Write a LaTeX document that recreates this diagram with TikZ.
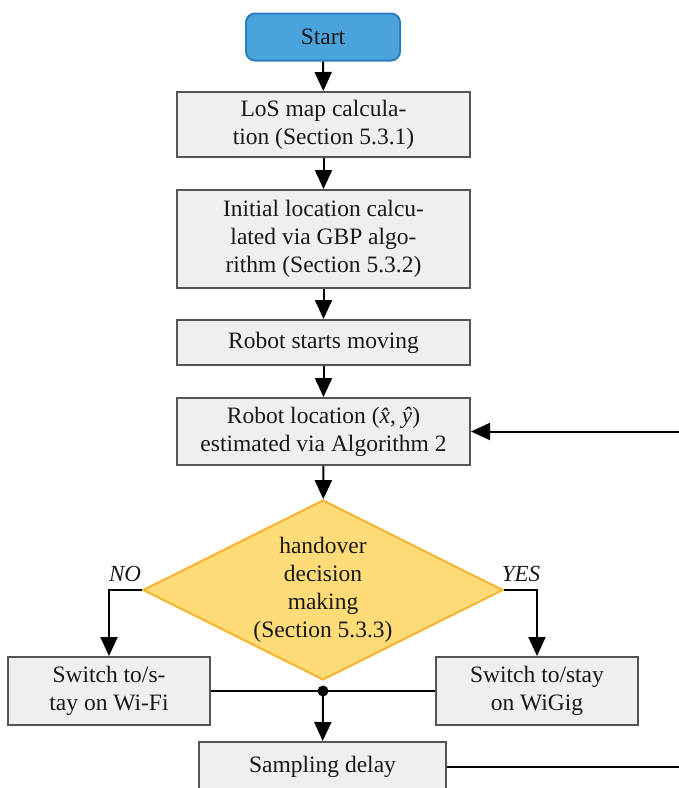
\documentclass[tikz,border=0pt]{standalone}
\usepackage{fontspec}
\setmainfont{Liberation Serif}
\usetikzlibrary{shapes.geometric,arrows.meta}
\definecolor{boxfill}{HTML}{EEEFEF}
\definecolor{boxline}{HTML}{555555}
\definecolor{startfill}{HTML}{4AA3DB}
\definecolor{startline}{HTML}{2C7FBE}
\definecolor{decfill}{HTML}{FFDC78}
\definecolor{decline}{HTML}{F5B330}
\begin{document}
\begin{tikzpicture}[x=1pt,y=-1pt,
  every node/.style={font=\fontsize{23.5}{28}\selectfont, text=black!90},
  procbox/.style={draw=boxline, fill=boxfill, line width=2pt, align=center,
    minimum width=293pt, inner sep=0pt},
  sidebox/.style={procbox, minimum width=202pt, minimum height=68pt},
  startbox/.style={draw=startline, fill=startfill, line width=2pt, rounded corners=9pt,
    minimum width=154pt, minimum height=47pt, inner sep=0pt},
  decbox/.style={diamond, draw=decline, fill=decfill, line width=2pt, aspect=2,
    minimum width=360pt, minimum height=180pt, inner sep=0pt, align=center},
  conn/.style={line width=2pt, draw=black},
  arr/.style={conn, -{Triangle[length=19pt,width=17pt]}},
  lbl/.style={font=\fontsize{23}{26}\selectfont\itshape}
]
\useasboundingbox (0,0) rectangle (679,788);
\clip (0,0) rectangle (679,788);

% process nodes
\node[startbox] (start) at (323,37) {Start};
\node[procbox, minimum height=65pt] (los) at (323.5,124.5) {LoS map calcula-\\tion (Section 5.3.1)};
\node[procbox, minimum height=98pt] (init) at (323.5,239) {Initial location calcu-\\lated via GBP algo-\\rithm (Section 5.3.2)};
\node[procbox, minimum height=45pt] (moving) at (323.5,342.5) {Robot starts moving};
\node[procbox, minimum height=67pt] (locate) at (323.5,431.5) {Robot location (\textit{\^{x}}, \textit{\^{y}})\\estimated via Algorithm 2};
\node[decbox] (dec) at (323,590) {handover\\decision\\making\\(Section 5.3.3)};
\node[sidebox] (wifi) at (109,691) {Switch to/s-\\tay on Wi-Fi};
\node[sidebox] (wigig) at (537,691) {Switch to/stay\\on WiGig};
\node[procbox, minimum width=247pt, minimum height=50pt] (delay) at (322.5,767) {Sampling delay};

% main flow
\draw[arr] (start) -- (los);
\draw[arr] (los) -- (init);
\draw[arr] (init) -- (moving);
\draw[arr] (moving) -- (locate);
\draw[arr] (locate) -- (dec);

% decision branches
\draw[arr] (dec.west) -| (wifi.north);
\draw[arr] (dec.east) -| (wigig.north);
\node[lbl] (no) at (125,574) {NO};
\node[lbl] (yes) at (521,574) {YES};

% merge of both branches
\coordinate (merge) at (323,691);
\draw[conn] (wifi.east) -- (wigig.west);
\fill (merge) circle (5.5pt);
\draw[arr] (merge) -- (delay);

% feedback loop to the localisation step
\draw[arr] (delay.east) -- ++(260,0) |- (locate.east);
\end{tikzpicture}
\end{document}
